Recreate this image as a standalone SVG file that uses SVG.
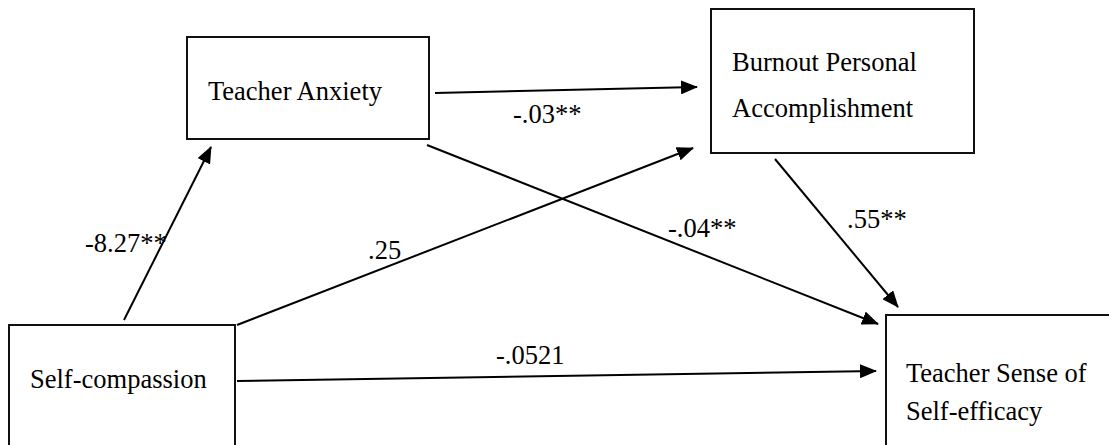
<svg xmlns="http://www.w3.org/2000/svg" width="1109" height="445" viewBox="0 0 1109 445">
<defs>
<marker id="ah" markerUnits="userSpaceOnUse" markerWidth="18" markerHeight="14" refX="16" refY="7" orient="auto">
<path d="M0,0 L17,7 L0,14 z" fill="#000"/>
</marker>
<style>
.box{fill:#fff;stroke:#111;stroke-width:2}
.t{font-family:"Liberation Serif","Times New Roman",serif;font-size:26.5px;fill:#000}
.c{stroke:#000;stroke-width:2;fill:none;marker-end:url(#ah)}
</style>
</defs>
<rect width="1109" height="445" fill="#fff"/>
<g id="teacher-anxiety">
<rect class="box" x="187" y="37" width="242" height="102"/>
<text class="t" x="208" y="100">Teacher Anxiety</text>
</g>
<g id="burnout">
<rect class="box" x="711" y="9" width="263" height="144"/>
<text class="t" x="732" y="71">Burnout Personal</text>
<text class="t" x="732" y="117">Accomplishment</text>
</g>
<g id="self-compassion">
<rect class="box" x="9" y="325" width="226" height="130"/>
<text class="t" x="30" y="388">Self-compassion</text>
</g>
<g id="teacher-sense">
<rect class="box" x="886" y="315" width="240" height="140"/>
<text class="t" x="906" y="382">Teacher Sense of</text>
<text class="t" x="906" y="420">Self-efficacy</text>
</g>
<g id="connectors">
<line class="c" x1="124" y1="320" x2="211" y2="147"/>
<line class="c" x1="435" y1="93" x2="697" y2="87"/>
<line class="c" x1="237" y1="325" x2="693" y2="148"/>
<line class="c" x1="427" y1="145" x2="878" y2="324"/>
<line class="c" x1="775" y1="159" x2="898" y2="307"/>
<line class="c" x1="237" y1="381" x2="876" y2="371"/>
</g>
<g id="labels">
<text class="t" x="85" y="252">-8.27**</text>
<text class="t" x="513" y="123">-.03**</text>
<text class="t" x="368" y="259">.25</text>
<text class="t" x="668" y="237">-.04**</text>
<text class="t" x="847" y="228">.55**</text>
<text class="t" x="496" y="364">-.0521</text>
</g>
</svg>
